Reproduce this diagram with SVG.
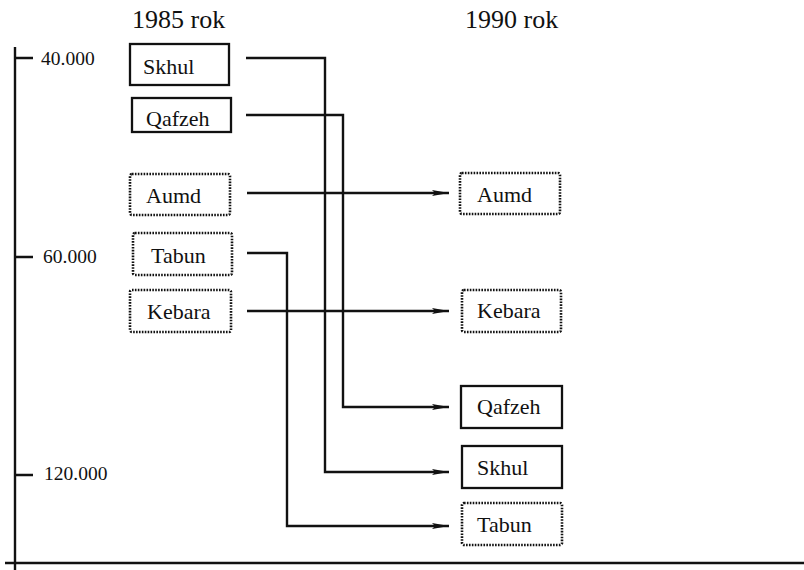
<svg xmlns="http://www.w3.org/2000/svg" width="804" height="570" viewBox="0 0 804 570">
<style>
text{font-family:"Liberation Serif","Times New Roman",serif;fill:#111}
.t{font-size:26px}
.ax{font-size:19.5px}
.lb{font-size:22px}
.solid{fill:#fff;stroke:#111;stroke-width:2.3}
.dot{fill:#fff;stroke:#111;stroke-width:2.6;stroke-dasharray:1.6 1.3}
.c{fill:none;stroke:#111;stroke-width:2.4}
.axis{stroke:#111;stroke-width:2.4;fill:none}
</style>
<defs>
<marker id="ah" viewBox="0 0 17 8" refX="17" refY="4" markerWidth="17" markerHeight="8" markerUnits="userSpaceOnUse" orient="auto">
<path d="M0,1 L17,4 L0,7 L3,4 Z" fill="#111"/>
</marker>
</defs>
<g id="titles">
<text class="t" x="132" y="28">1985 rok</text>
<text class="t" x="465" y="28">1990 rok</text>
</g>
<g id="axes">
<path class="axis" d="M15,47 V570"/>
<path class="axis" d="M5,563 H804"/>
<path class="axis" d="M15,58 H33 M15,257 H33 M15,475 H33"/>
<text class="ax" x="41" y="65">40.000</text>
<text class="ax" x="43" y="263">60.000</text>
<text class="ax" x="44" y="480">120.000</text>
</g>
<g id="connectors">
<path class="c" d="M246,58 H325 V472 H449" marker-end="url(#ah)"/>
<path class="c" d="M246,115 H343 V407 H449" marker-end="url(#ah)"/>
<path class="c" d="M247,193 H449" marker-end="url(#ah)"/>
<path class="c" d="M247,253 H287 V526 H449" marker-end="url(#ah)"/>
<path class="c" d="M247,311 H449" marker-end="url(#ah)"/>
</g>
<g id="skhul-1985"><rect class="solid" x="130" y="44" width="99" height="41"/><text class="lb" x="143" y="74">Skhul</text></g>
<g id="qafzeh-1985"><rect class="solid" x="132" y="98" width="99" height="34"/><text class="lb" x="146" y="126">Qafzeh</text></g>
<g id="aumd-1985"><rect class="dot" x="130" y="174" width="100" height="41" rx="2"/><text class="lb" x="146" y="203">Aumd</text></g>
<g id="tabun-1985"><rect class="dot" x="133" y="233" width="99" height="42" rx="2"/><text class="lb" x="151" y="263">Tabun</text></g>
<g id="kebara-1985"><rect class="dot" x="130" y="290" width="101" height="42" rx="2"/><text class="lb" x="147" y="319">Kebara</text></g>
<g id="aumd-1990"><rect class="dot" x="460" y="173" width="100" height="41" rx="2"/><text class="lb" x="477" y="202">Aumd</text></g>
<g id="kebara-1990"><rect class="dot" x="462" y="290" width="99" height="42" rx="2"/><text class="lb" x="477" y="318">Kebara</text></g>
<g id="qafzeh-1990"><rect class="solid" x="461" y="386" width="101" height="42"/><text class="lb" x="477" y="414">Qafzeh</text></g>
<g id="skhul-1990"><rect class="solid" x="462" y="446" width="100" height="42"/><text class="lb" x="477" y="475">Skhul</text></g>
<g id="tabun-1990"><rect class="dot" x="462" y="503" width="100" height="42" rx="2"/><text class="lb" x="477" y="532">Tabun</text></g>
</svg>
